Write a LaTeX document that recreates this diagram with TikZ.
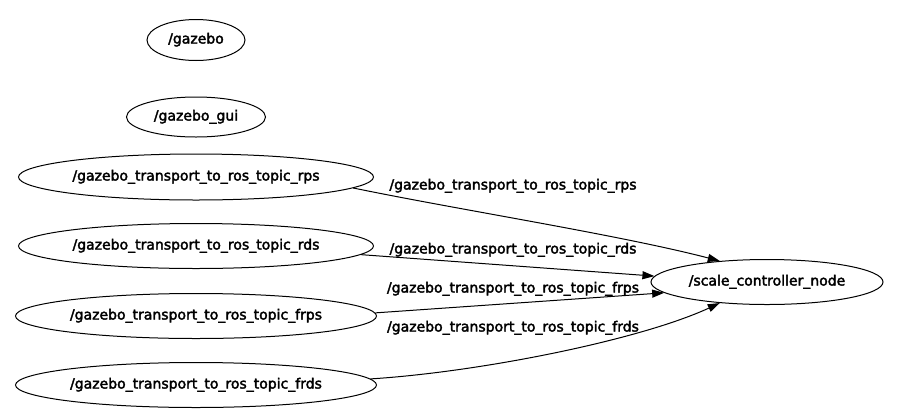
\documentclass[tikz,border=0pt]{standalone}
\usepackage{fontspec}
\setmainfont{DejaVu Sans}[BoldFont=DejaVu Sans, BoldFeatures={FakeBold=2.5}]
\usetikzlibrary{shapes.geometric,arrows.meta}

\begin{document}
\begin{tikzpicture}[x=1pt, y=-1pt,
  rosnode/.style={draw, ellipse, line width=1pt, inner sep=0pt, text height=10pt, text depth=3pt, font=\fontsize{14}{16}\selectfont\bfseries},
  topiclabel/.style={inner sep=0pt, text height=10pt, text depth=3pt, font=\fontsize{14}{16}\selectfont\bfseries},
  edge/.style={line width=1pt, -{Triangle[length=12pt,width=8pt]}}]
\useasboundingbox (0,0) rectangle (898,416);

% nodes
\node[rosnode, minimum width=98pt, minimum height=41pt] (gazebo) at (196,40) {/gazebo};
\node[rosnode, minimum width=139pt, minimum height=40pt] (gazebogui) at (196,117) {/gazebo\_gui};
\node[rosnode, minimum width=355pt, minimum height=46pt] (rps) at (196,177) {/gazebo\_transport\_to\_ros\_topic\_rps};
\node[rosnode, minimum width=355pt, minimum height=45pt] (rds) at (196,246) {/gazebo\_transport\_to\_ros\_topic\_rds};
\node[rosnode, minimum width=361pt, minimum height=45pt] (frps) at (196,316) {/gazebo\_transport\_to\_ros\_topic\_frps};
\node[rosnode, minimum width=361pt, minimum height=45pt] (frds) at (196,385) {/gazebo\_transport\_to\_ros\_topic\_frds};
\node[rosnode, minimum width=232pt, minimum height=45pt] (scale) at (767,282) {/scale\_controller\_node};

% topics
\draw[edge] (rps.-4) .. controls (460,210) and (620,235) .. (scale.156);
\draw[edge] (rds.-3.5) -- (scale.177);
\draw[edge] (frps.1.3) -- (scale.186);
\draw[edge] (frds.2) .. controls (480,372) and (640,340) .. (scale.204);

\node[topiclabel] (lrps) at (513,186) {/gazebo\_transport\_to\_ros\_topic\_rps};
\node[topiclabel] (lrds) at (513,250) {/gazebo\_transport\_to\_ros\_topic\_rds};
\node[topiclabel] (lfrps) at (513,289) {/gazebo\_transport\_to\_ros\_topic\_frps};
\node[topiclabel] (lfrds) at (513,328) {/gazebo\_transport\_to\_ros\_topic\_frds};
\end{tikzpicture}
\end{document}
